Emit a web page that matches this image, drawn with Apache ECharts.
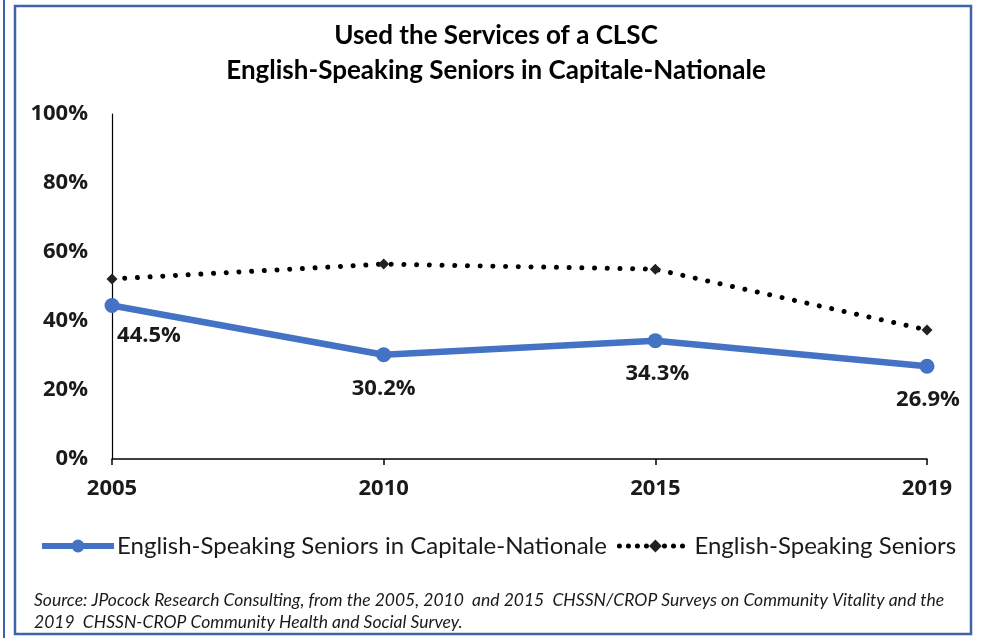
<!DOCTYPE html>
<html><head><meta charset="utf-8">
<script src="https://cdn.jsdelivr.net/npm/echarts@6/dist/echarts.min.js"></script>
<style>html,body{margin:0;padding:0;background:#fff}#c{width:984px;height:638px}</style>
</head><body><div id="c"></div>
<script>
const years = ['2005', '2010', '2015', '2019'];
const capitaleNationale = [44.5, 30.2, 34.3, 26.9];
const englishSeniors = [52.2, 56.5, 55.0, 37.4];
const yTicks = [0, 20, 40, 60, 80, 100];
const seriesNames = ['English-Speaking Seniors in Capitale-Nationale', 'English-Speaking Seniors'];
const titleLines = ['Used the Services of a CLSC', 'English-Speaking Seniors in Capitale-Nationale'];
const sourceLines = ['Source: JPocock Research Consulting, from the 2005, 2010  and 2015  CHSSN/CROP Surveys on Community Vitality and the',
  '2019  CHSSN-CROP Community Health and Social Survey.'];

const labelOffsets = [[37, -3], [0, 0], [2, 0], [1, 0]];
const BLUE = '#4472C4';

const chart = echarts.init(document.getElementById('c'), null, {renderer: 'canvas'});
const FONT = 'Lato';
chart.setOption({
  animation: false,
  backgroundColor: '#fff',
  textStyle: {fontFamily: FONT},
  title: {
    text: titleLines.join('\n'),
    left: 491, top: 13, textAlign: 'center',
    textStyle: {fontFamily: FONT, fontWeight: 'bold', fontSize: 26, lineHeight: 35, color: '#000'}
  },
  grid: {left: 112, right: 57, top: 114, bottom: 179, containLabel: false},
  xAxis: {
    type: 'category', data: years, boundaryGap: false,
    axisLine: {lineStyle: {color: '#000', width: 1.5}},
    axisTick: {show: true, length: 6, lineStyle: {color: '#000', width: 1.5}},
    axisLabel: {color: '#1a1a1a', fontFamily: 'Open Sans', fontWeight: 'bold', fontSize: 22, margin: 19},
    splitLine: {show: false}
  },
  yAxis: {
    type: 'value', min: yTicks[0], max: yTicks[yTicks.length - 1], interval: yTicks[1] - yTicks[0],
    axisLine: {show: true, lineStyle: {color: '#000', width: 1.2}},
    axisTick: {show: false},
    splitLine: {show: false},
    axisLabel: {formatter: '{value}%', color: '#1a1a1a', fontFamily: 'Open Sans', fontWeight: 'bold', fontSize: 22, margin: 24}
  },
  legend: {
    left: 34, top: 529, itemWidth: 72, itemHeight: 16, itemGap: 10,
    textStyle: {fontFamily: FONT, fontSize: 24, color: '#1a1a1a', padding: [0, 0, 0, -2]},
    data: [
      {name: seriesNames[0], lineStyle: {width: 6, color: BLUE}},
      {name: seriesNames[1], lineStyle: {width: 5, color: '#000', type: [0.01, 9], cap: 'round'}}
    ]
  },
  series: [
    {
      name: seriesNames[0], type: 'line', data: capitaleNationale.map((v, i) => ({
        value: v, label: {offset: labelOffsets[i]}
      })),
      z: 3,
      symbol: 'circle', symbolSize: 15,
      lineStyle: {color: BLUE, width: 6.5},
      itemStyle: {color: BLUE},
      label: {show: true, position: 'bottom', distance: 15, formatter: p => p.value.toFixed(1) + '%',
        fontFamily: 'Open Sans', fontWeight: 'bold', fontSize: 22, color: '#1a1a1a'}
    },
    {
      name: seriesNames[1], type: 'line', data: englishSeniors,
      z: 2,
      symbol: 'diamond', symbolSize: 11,
      lineStyle: {color: '#000', width: 5, type: [0.01, 12.7], cap: 'round'},
      itemStyle: {color: '#222'}
    }
  ],
  graphic: [
    {type: 'line', shape: {x1: 4, y1: 0, x2: 4, y2: 638}, style: {stroke: '#3f63a8', lineWidth: 2}},
    {type: 'rect', shape: {x: 15, y: 6, width: 956, height: 628}, style: {fill: 'none', stroke: '#3f63a8', lineWidth: 2.5}},
    {type: 'text', left: 34, top: 589, style: {text: sourceLines.join('\n'), font: 'italic 17.5px Lato', lineHeight: 22, fill: '#1a1a1a'}}
  ]
});
</script></body></html>
